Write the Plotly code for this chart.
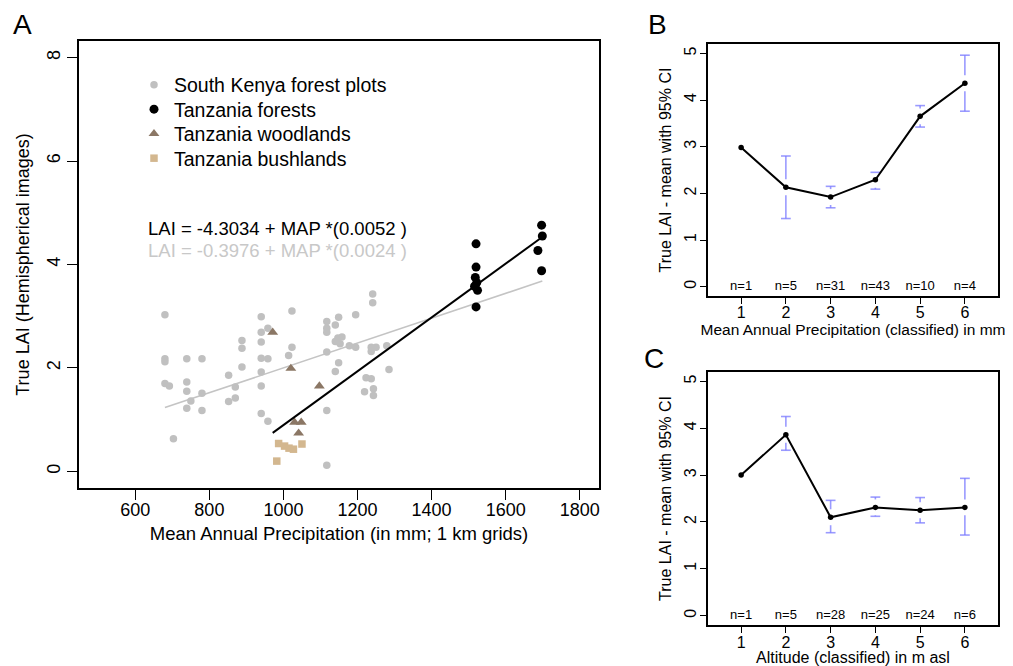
import plotly.graph_objects as go

# ---------------- Data: panel A ----------------
sk_map = [680, 940, 940, 958, 940, 888, 888, 680, 680, 739, 780, 940, 958, 888, 852, 940,
          680, 692, 739, 739, 780, 750, 739, 780, 870, 852, 870, 940, 940, 958, 703,
          1023, 1241, 1241, 1195, 1149, 1117, 1117, 1117, 1140, 1147, 1158, 1140, 1153,
          1178, 1195, 1117, 1023, 1014, 1237, 1237, 1250, 1279, 1149, 1140, 1285, 1237,
          1223, 1219, 1243, 1243, 1117, 1117]
sk_lai = [3.03, 2.99, 2.69, 2.77, 2.50, 2.53, 2.38, 2.18, 2.12, 2.18, 2.18, 2.19, 2.18, 2.02, 1.86, 1.92,
          1.70, 1.65, 1.73, 1.55, 1.51, 1.36, 1.22, 1.18, 1.63, 1.35, 1.42, 1.65, 1.12, 0.97, 0.63,
          3.10, 3.43, 3.26, 3.03, 2.98, 2.90, 2.77, 2.69, 2.83, 2.58, 2.60, 2.51, 2.47,
          2.43, 2.40, 2.31, 2.40, 2.24, 2.40, 2.32, 2.40, 2.43, 2.10, 1.93, 1.97, 1.79,
          1.81, 1.54, 1.60, 1.47, 1.18, 0.12]

tzf_map = [1520, 1520, 1518, 1522, 1516, 1524, 1520, 1697, 1699, 1687, 1697]
tzf_lai = [4.40, 3.95, 3.75, 3.65, 3.58, 3.50, 3.18, 4.76, 4.55, 4.27, 3.88]

tzw_map = [971, 1020, 1097, 1030, 1048, 1041]
tzw_lai = [2.69, 1.99, 1.65, 0.95, 0.95, 0.74]

tzb_map = [987, 1003, 1027, 1050, 982, 1015]
tzb_lai = [0.54, 0.49, 0.43, 0.53, 0.20, 0.45]

# regression coefficients (from the chart's equations)
tz_a, tz_b = -4.3034, 0.0052
all_a, all_b = -0.3976, 0.0024

# ---------------- Data: panels B and C ----------------
classes = [1, 2, 3, 4, 5, 6]
b_mean = [2.98, 2.13, 1.92, 2.29, 3.65, 4.36]
b_lo = [None, 1.46, 1.69, 2.09, 3.42, 3.76]
b_hi = [None, 2.80, 2.15, 2.45, 3.88, 4.96]
b_n = [1, 5, 31, 43, 10, 4]

c_mean = [3.00, 3.86, 2.10, 2.31, 2.25, 2.31]
c_lo = [None, 3.53, 1.77, 2.12, 1.98, 1.72]
c_hi = [None, 4.25, 2.46, 2.53, 2.52, 2.93]
c_n = [1, 5, 28, 25, 24, 6]

# page body has an 8px margin: figure occupies (8,8)-(1013,666)
OFF = 8
W, H = 1013 - OFF, 666 - OFF
FONT = "Liberation Sans, Arial, Helvetica, sans-serif"


def fx(p):
    return (p - OFF) / W


def fy(p):
    return 1 - (p - OFF) / H


fig = go.Figure()

# ---------- Panel A ----------
tz_x = tzf_map + tzw_map + tzb_map
all_x = sk_map + tz_x
gx = [min(all_x), max(all_x)]
fig.add_trace(go.Scatter(x=gx, y=[all_a + all_b * v for v in gx], mode="lines",
                         line=dict(color="#c4c4c4", width=1.6), showlegend=False,
                         xaxis="x", yaxis="y"))

fig.add_trace(go.Scatter(x=sk_map, y=sk_lai, mode="markers", name="South Kenya forest plots",
                         marker=dict(symbol="circle", size=7.5, color="#c0c0c0"),
                         legend="legend", xaxis="x", yaxis="y"))
fig.add_trace(go.Scatter(x=tzf_map, y=tzf_lai, mode="markers", name="Tanzania forests",
                         marker=dict(symbol="circle", size=9, color="black"),
                         legend="legend2", xaxis="x", yaxis="y"))
fig.add_trace(go.Scatter(x=tzw_map, y=tzw_lai, mode="markers", name="Tanzania woodlands",
                         marker=dict(symbol="triangle-up", size=9.5, color="#8b7765"),
                         legend="legend3", xaxis="x", yaxis="y"))
fig.add_trace(go.Scatter(x=tzb_map, y=tzb_lai, mode="markers", name="Tanzania bushlands",
                         marker=dict(symbol="square", size=7.5, color="#d3b78f"),
                         legend="legend4", xaxis="x", yaxis="y"))

tx = [min(tz_x), max(tz_x)]
fig.add_trace(go.Scatter(x=tx, y=[tz_a + tz_b * v for v in tx], mode="lines",
                         line=dict(color="black", width=2), showlegend=False,
                         xaxis="x", yaxis="y"))


# ---------- Panels B and C ----------
def add_ci_panel(means, lo, hi, ns, xa, ya, gap=0.17):
    seg_x, seg_y, cap_x, cap_y = [], [], [], []
    for c, m, l, h in zip(classes, means, lo, hi):
        if l is None:
            continue
        cap_x += [c, c]
        cap_y += [l, h]
        if h - gap > m:
            seg_x += [c, c, None]
            seg_y += [h, m + gap, None]
        if l + gap < m:
            seg_x += [c, c, None]
            seg_y += [m - gap, l, None]
    ci_col = "rgba(120,120,255,0.75)"
    fig.add_trace(go.Scatter(x=seg_x, y=seg_y, mode="lines", line=dict(color=ci_col, width=1.6),
                             showlegend=False, xaxis=xa, yaxis=ya))
    fig.add_trace(go.Scatter(x=cap_x, y=cap_y, mode="markers",
                             marker=dict(symbol="line-ew", size=7, line=dict(color=ci_col, width=1.6)),
                             showlegend=False, xaxis=xa, yaxis=ya))
    fig.add_trace(go.Scatter(x=classes, y=means, mode="lines+markers",
                             line=dict(color="black", width=2),
                             marker=dict(symbol="circle", size=5.5, color="black"),
                             showlegend=False, xaxis=xa, yaxis=ya))
    fig.add_trace(go.Scatter(x=classes, y=[0] * len(classes), mode="text",
                             text=[f"n={n}" for n in ns], textposition="middle center",
                             textfont=dict(size=13, color="black", family=FONT),
                             showlegend=False, xaxis=xa, yaxis=ya))


add_ci_panel(b_mean, b_lo, b_hi, b_n, "x2", "y2")
add_ci_panel(c_mean, c_lo, c_hi, c_n, "x3", "y3")

box = dict(showline=True, mirror=True, linecolor="black", linewidth=1.5, showgrid=False,
           zeroline=False, ticks="outside", tickcolor="black", tickwidth=1.2)


def leg(ypx):
    return dict(x=fx(134), y=fy(ypx), xanchor="left", yanchor="middle",
                bgcolor="rgba(0,0,0,0)", font=dict(size=19.5), itemwidth=30)


fig.update_layout(
    width=W, height=H,
    margin=dict(l=0, r=0, t=0, b=0),
    paper_bgcolor="white", plot_bgcolor="white",
    font=dict(family=FONT, color="black"),
    xaxis=dict(domain=[fx(79), fx(599)], anchor="y", range=[448, 1852],
               tickvals=[600, 800, 1000, 1200, 1400, 1600, 1800], ticklen=10,
               tickfont=dict(size=18), ticklabelstandoff=-5,
               title=dict(text="Mean Annual Precipitation (in mm; 1 km grids)",
                          font=dict(size=18.5), standoff=8), **box),
    yaxis=dict(domain=[fy(488), fy(41)], anchor="x", range=[-0.32, 8.32],
               tickvals=[0, 2, 4, 6, 8], ticklen=10, tickangle=-90,
               tickfont=dict(size=18), ticklabelstandoff=0,
               title=dict(text="True LAI (Hemispherical images)", font=dict(size=18), standoff=10),
               **box),
    xaxis2=dict(domain=[fx(708), fx(998)], anchor="y2", range=[0.26, 6.74],
                tickvals=classes, ticklen=6, tickfont=dict(size=16), ticklabelstandoff=-5,
                title=dict(text="Mean Annual Precipitation (classified) in mm",
                           font=dict(size=15.5), standoff=3), **box),
    yaxis2=dict(domain=[fy(296), fy(44)], anchor="x2", range=[-0.2, 5.2],
                tickvals=[0, 1, 2, 3, 4, 5], ticklen=6, tickangle=-90,
                tickfont=dict(size=16), ticklabelstandoff=-2,
                title=dict(text="True LAI - mean with 95% CI", font=dict(size=16), standoff=6),
                **box),
    xaxis3=dict(domain=[fx(708), fx(998)], anchor="y3", range=[0.26, 6.74],
                tickvals=classes, ticklen=6, tickfont=dict(size=16), ticklabelstandoff=-4,
                title=dict(text="Altitude (classified) in m asl", font=dict(size=16), standoff=1),
                **box),
    yaxis3=dict(domain=[fy(625), fy(372)], anchor="x3", range=[-0.2, 5.2],
                tickvals=[0, 1, 2, 3, 4, 5], ticklen=6, tickangle=-90,
                tickfont=dict(size=16), ticklabelstandoff=-2,
                title=dict(text="True LAI - mean with 95% CI", font=dict(size=16), standoff=6),
                **box),
    legend=leg(85), legend2=leg(109.5), legend3=leg(134), legend4=leg(158.5),
    showlegend=True,
)

# equations
fig.add_annotation(x=fx(147), y=fy(229), xref="paper", yref="paper", xanchor="left", yanchor="middle",
                   text="LAI = -4.3034 + MAP *(0.0052 )", showarrow=False,
                   font=dict(size=18.5, color="black"), borderpad=0)
fig.add_annotation(x=fx(147), y=fy(250), xref="paper", yref="paper", xanchor="left", yanchor="middle",
                   text="LAI = -0.3976 + MAP *(0.0024 )", showarrow=False,
                   font=dict(size=18.5, color="#c8c8c8"), borderpad=0)

# panel letters
for letter, px, py in [("A", 22, 24), ("B", 657, 24), ("C", 654, 358)]:
    fig.add_annotation(x=fx(px), y=fy(py), xref="paper", yref="paper", xanchor="center",
                       yanchor="middle", text=letter, showarrow=False,
                       font=dict(size=28, color="black"))

fig.write_html("out.html")
